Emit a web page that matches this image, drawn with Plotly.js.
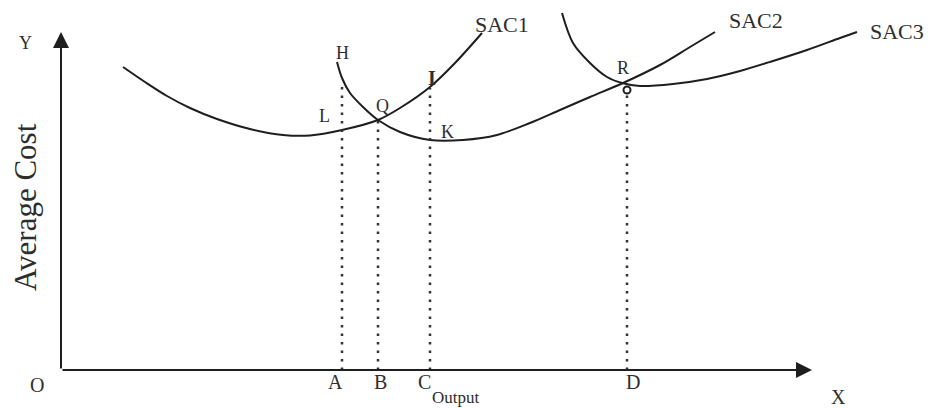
<!DOCTYPE html>
<html>
<head>
<meta charset="utf-8">
<script src="https://cdn.plot.ly/plotly-3.0.1.min.js"></script>
<style>html,body{margin:0;padding:0;background:#fff;}#chart{width:935px;height:408px;}</style>
</head>
<body>
<div id="chart"></div>
<script>
// Short-run average cost curves (output, average cost)
const sac1X = [6.2, 8.4, 10.6, 12.9, 15.6, 18.9, 22.2, 24.9, 28.1, 31.7, 33.9, 36.9, 39.4, 42.1];
const sac1Y = [30.3, 28.8, 27.4, 26.2, 25.1, 24.1, 23.5, 23.45, 24.0, 25.0, 26.2, 28.3, 30.7, 33.7];

const sac2X = [27.6, 28.1, 28.9, 30.2, 31.7, 33.9, 36.9, 40.2, 43.6, 46.9, 49.9, 52.9, 56.2, 59.9, 62.9, 65.4];
const sac2Y = [30.8, 29.2, 27.7, 26.3, 25.0, 23.8, 23.0, 23.0, 23.5, 24.7, 26.0, 27.3, 28.7, 30.5, 32.3, 33.8];

const sac3X = [50.1, 51.2, 52.9, 54.6, 56.1, 57.9, 61.2, 64.6, 67.9, 71.2, 74.6, 77.9, 79.6];
const sac3Y = [35.7, 32.7, 30.7, 29.3, 28.7, 28.4, 28.6, 29.1, 29.9, 30.9, 32.0, 33.2, 33.8];

// Output levels A, B, C, D and the cost at which each dotted guide starts
const outputLabels = ["A", "B", "C", "D"];
const outputLevels = [28.1, 31.7, 36.9, 56.6];
const guideTops = [28.7, 25.0, 28.2, 27.6];
const outputLabelX = [27.4, 31.9, 36.3, 57.2];

// Point labels on the curves
const pointLabels = ["H", "L", "Q", "I", "K", "R"];
const pointX = [28.1, 26.3, 32.1, 37.1, 38.6, 56.2];
const pointY = [31.7, 25.4, 26.4, 29.2, 23.8, 30.2];

// Curve names
const curveNames = ["SAC1", "SAC2", "SAC3"];
const curveNameX = [44.1, 69.5, 80.7];
const curveNameY = [34.6, 35.0, 33.9];

// Point R marker
const rX = [56.6];
const rY = [28.0];

// Axis extents
const xAxisEnd = 75.1;
const yAxisEnd = 33.8;

const lineColor = "#1e1e1e";
const textColor = "#2e2e2e";
const serif = "Liberation Serif, Times New Roman, serif";

const traces = [];
[[sac1X, sac1Y], [sac2X, sac2Y], [sac3X, sac3Y]].forEach(([xs, ys], i) => {
  traces.push({
    x: xs, y: ys, mode: "lines", name: curveNames[i],
    line: {color: lineColor, width: 2, shape: "spline", smoothing: 0.9},
    hoverinfo: "skip", showlegend: false
  });
});
outputLevels.forEach((xv, i) => {
  traces.push({
    x: [xv, xv], y: [0, guideTops[i]], mode: "lines",
    line: {color: "#333", width: 2.5, dash: "2.5px,6px"},
    hoverinfo: "skip", showlegend: false
  });
});
traces.push({
  x: rX, y: rY, mode: "markers",
  marker: {symbol: "circle-open", size: 7, color: lineColor, line: {width: 2, color: lineColor}},
  hoverinfo: "skip", showlegend: false
});

const annotations = [];
// axes with arrows
annotations.push({x: 0, y: yAxisEnd, ax: 0, ay: 0, axref: "x", ayref: "y", xref: "x", yref: "y",
  text: "", showarrow: true, arrowhead: 2, arrowsize: 1.6, arrowwidth: 2, arrowcolor: lineColor, standoff: 0});
annotations.push({x: xAxisEnd, y: 0, ax: 0, ay: 0, axref: "x", ayref: "y", xref: "x", yref: "y",
  text: "", showarrow: true, arrowhead: 2, arrowsize: 1.6, arrowwidth: 2, arrowcolor: lineColor, standoff: 0});

const addText = (t, x, y, size, extra) => {
  annotations.push(Object.assign({x: x, y: y, xref: "x", yref: "y", text: t, showarrow: false,
    font: {family: serif, size: size, color: textColor}}, extra || {}));
};

outputLabels.forEach((t, i) => addText(t, outputLabelX[i], -1.15, 20));
pointLabels.forEach((t, i) => addText(t === "I" ? "<b>I</b>" : t, pointX[i], pointY[i], t === "I" ? 20 : 18));
curveNames.forEach((t, i) => addText(t, curveNameX[i], curveNameY[i], 22, i === 2 ? {xanchor: "left"} : {}));
addText("Y", -3.6, 32.7, 18);
addText("O", -2.4, -1.5, 20);
addText("X", 77.7, -2.7, 20);
addText("Output", 39.5, -2.75, 17);
addText("Average Cost", -3.6, 16.3, 31, {textangle: -90});

const layout = {
  width: 935, height: 408,
  margin: {l: 0, r: 0, t: 0, b: 0},
  paper_bgcolor: "#fff", plot_bgcolor: "#fff",
  xaxis: {range: [-6.1, 87.4], visible: false, fixedrange: true},
  yaxis: {range: [-3.8, 37.0], visible: false, fixedrange: true},
  annotations: annotations,
  showlegend: false
};

Plotly.newPlot("chart", traces, layout, {staticPlot: true, displayModeBar: false});
</script>
</body>
</html>
